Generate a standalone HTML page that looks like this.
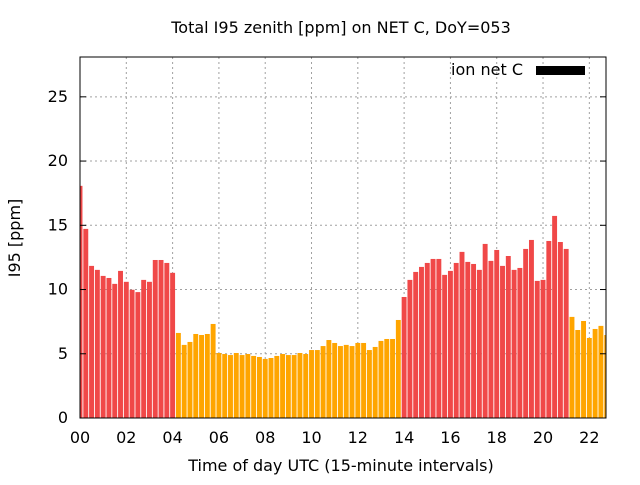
<!DOCTYPE html>
<html><head><meta charset="utf-8"><style>
body{margin:0;background:#fff;}
svg text{font-family:"DejaVu Sans","Liberation Sans",sans-serif;}
</style></head><body>
<svg id="c" width="640" height="480" xmlns="http://www.w3.org/2000/svg">
<text x="341" y="33" font-size="16" text-anchor="middle">Total I95 zenith [ppm] on NET C, DoY=053</text>
<g id="grid"></g>
<g id="bars"></g>
<rect x="80" y="57" width="526" height="361" fill="none" stroke="#000" stroke-width="1"/>
<g id="axes"></g>
<text x="523" y="75" font-size="16" text-anchor="end">ion net C</text>
<rect x="536" y="66" width="49" height="9" fill="#000"/>
<text x="341" y="471" font-size="16" text-anchor="middle">Time of day UTC (15-minute intervals)</text>
<text transform="translate(20,238) rotate(-90)" font-size="16" text-anchor="middle">I95 [ppm]</text>
</svg>
<script>
const values=[18.07,14.72,11.84,11.53,11.06,10.9,10.44,11.45,10.6,9.98,9.8,10.75,10.6,12.3,12.3,12.07,11.3,
6.62,5.69,5.92,6.54,6.46,6.54,7.32,5.06,4.98,4.9,5.06,4.9,4.98,4.83,4.75,4.6,4.67,4.83,4.98,4.9,4.9,5.06,4.98,
5.29,5.29,5.6,6.07,5.84,5.6,5.69,5.6,5.84,5.84,5.29,5.53,6.0,6.15,6.15,7.63,
9.42,10.75,11.37,11.76,12.07,12.38,12.38,11.14,11.45,12.07,12.93,12.15,11.99,11.53,13.55,12.23,13.08,11.84,12.61,11.53,11.68,13.16,13.86,10.67,10.75,13.78,15.73,13.7,13.16,
7.87,6.85,7.55,6.23,6.93,7.17,6.46];
const isRed=[];
for(let i=0;i<values.length;i++){isRed.push(i<17||(i>=56&&i<85));}
const yTicks=[0,5,10,15,20,25];
const xTicks=[0,2,4,6,8,10,12,14,16,18,20,22];
const NS="http://www.w3.org/2000/svg";
const X0=80,X1=606,Y0=418,Y1=57,XMAX=22.72,YMAX=28.1;
const xs=h=>X0+h/XMAX*(X1-X0);
const ys=v=>Y0-v/YMAX*(Y0-Y1);
function mk(tag,attrs,parent){const e=document.createElementNS(NS,tag);for(const k in attrs)e.setAttribute(k,attrs[k]);document.getElementById(parent).appendChild(e);return e;}
yTicks.forEach(t=>{
  const y=ys(t);
  if(t>0){const g=mk('line',{x1:X0,x2:X1,y1:y,y2:y,stroke:'#a0a0a0','stroke-dasharray':'2,3'},'grid');
  
  }
  const tk=mk('line',{x1:X0,x2:X0+6,y1:y,y2:y,stroke:'#000'},'axes');
  
  
  const tk2=mk('line',{x1:X1-6,x2:X1,y1:y,y2:y,stroke:'#000'},'axes');
  
  
  const l=mk('text',{x:X0-12,y:y+5,'font-size':16,'text-anchor':'end'},'axes');
  l.textContent=t;
  
  
});
xTicks.forEach(t=>{
  const x=xs(t);
  if(t>0){const g=mk('line',{x1:x,x2:x,y1:Y1,y2:Y0,stroke:'#a0a0a0','stroke-dasharray':'2,3'},'grid');
  
  }
  const l=mk('text',{x:x,y:443,'font-size':16,'text-anchor':'middle'},'axes');
  l.textContent=(t<10?'0':'')+t;
  
  
});
const bw=(xs(0.25)-xs(0))*0.85;
values.forEach((v,i)=>{
  const cx=xs(i/4);
  let x0=Math.max(cx-bw/2,X0),x1=Math.min(cx+bw/2,X1);
  if(x1<=x0)return;
  const r=mk('rect',{x:x0,y:ys(v),width:x1-x0,height:Y0-ys(v),fill:isRed[i]?'#f04848':'#ffa500'},'bars');
  
  
});
</script>
</body></html>
